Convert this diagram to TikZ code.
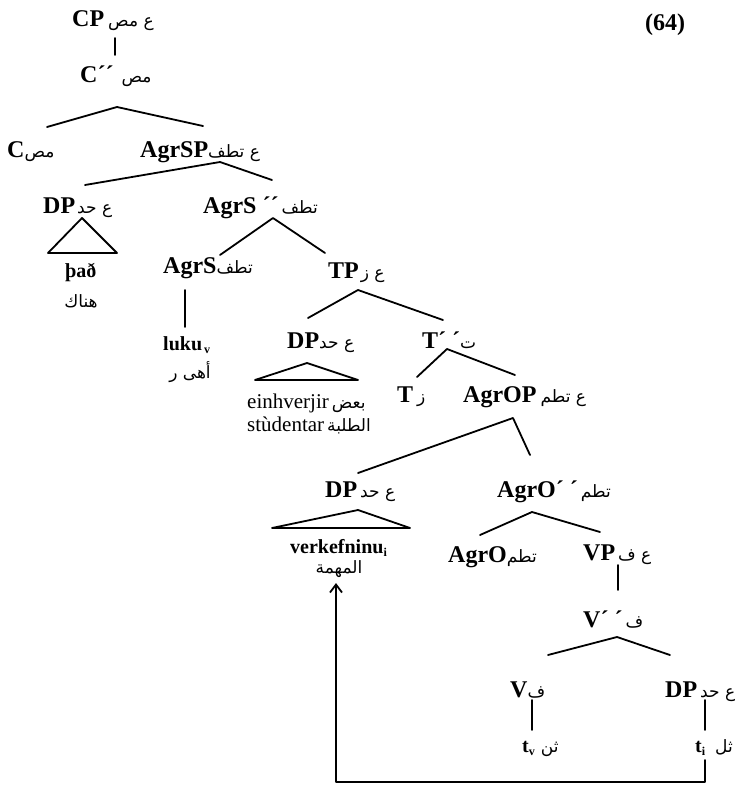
\documentclass[tikz,border=0pt]{standalone}
\usepackage{fontspec}
\setmainfont{Liberation Serif}
\newfontfamily\arabfam[Script=Arabic]{DejaVu Sans}
\TeXXeTstate=1
\usetikzlibrary{arrows.meta}
\newcommand{\arb}[1]{{\arabfam\mdseries\fontsize{17}{17}\selectfont\beginR #1\endR}}
\newcommand{\sbs}[1]{\raisebox{-3pt}{\fontsize{12}{12}\selectfont #1}}
\tikzset{
  lab/.style={anchor=base west, inner sep=0pt, font=\fontsize{24}{24}\selectfont\bfseries},
  leaf/.style={anchor=base west, inner sep=0pt, font=\fontsize{20}{20}\selectfont\bfseries},
  leafr/.style={anchor=base west, inner sep=0pt, font=\fontsize{21}{21}\selectfont},
  arn/.style={anchor=base, inner sep=0pt},
  br/.style={line width=1.8pt, line cap=round, line join=round},
}
\begin{document}
\begin{tikzpicture}[x=1pt, y=-1pt]
\useasboundingbox (0,0) rectangle (750,787);
% labels
\node[lab] (num) at (645,30) {(64)};
\node[lab] (cp) at (72,27) {CP\hspace{4pt}\arb{ع مص}};
\node[lab] (cbar) at (80,82) {C´´\hspace{8pt}\arb{مص}};
\node[lab] (c) at (7,157) {C\arb{مص}};
\node[lab] (agrsp) at (140,157) {AgrSP\arb{ع تطف}};
\node[lab] (dp1) at (43,213) {DP\hspace{2pt}\arb{ع حد}};
\node[lab] (agrsbar) at (203,213) {AgrS ´´\hspace{3pt}\arb{تطف}};
\node[lab] (agrs) at (163,273) {AgrS\arb{تطف}};
\node[lab] (tp) at (328,278) {TP\hspace{2pt}\arb{ع ز}};
\node[lab] (dp2) at (287,348) {DP\arb{ع حد}};
\node[lab] (tbar) at (422,348) {T´ ´\arb{ت}};
\node[lab] (t) at (397,402) {T\hspace{4pt}\arb{ز}};
\node[lab] (agrop) at (463,402) {AgrOP\hspace{4pt}\arb{ع تطم}};
\node[lab] (dp3) at (325,497) {DP\hspace{3pt}\arb{ع حد}};
\node[lab] (agrobar) at (497,497) {AgrO´ ´\hspace{3pt}\arb{تطم}};
\node[lab] (agro) at (448,562) {AgrO\arb{تطم}};
\node[lab] (vp) at (583,560) {VP\hspace{3pt}\arb{ع ف}};
\node[lab] (vbar) at (583,627) {V´ ´\hspace{3pt}\arb{ف}};
\node[lab] (v) at (510,697) {V\arb{ف}};
\node[lab] (dp4) at (665,697) {DP\hspace{3pt}\arb{ع حد}};
% leaves
\node[leaf] (thad) at (65,277) {það};
\node[arn] (hunak) at (81,307) {\arb{هناك}};
\node[leaf] (luku) at (163,350) {luku\hspace{2pt}\sbs{v}};
\node[arn] (anha) at (190,378) {\arb{أهى ر}};
\node[leafr] (einh) at (247,408) {einhverjir\hspace{3pt}\arb{بعض}};
\node[leafr] (stud) at (247,431) {stùdentar\hspace{3pt}\arb{الطلبة}};
\node[leaf] (verk) at (290,553) {verkefninu\sbs{i}};
\node[arn] (muh) at (339,573) {\arb{المهمة}};
\node[leaf] (tv) at (522,752) {t\sbs{v}\hspace{6pt}\arb{ثن}};
\node[leaf] (ti) at (695,752) {t\sbs{i}\hspace{10pt}\arb{ثل}};
% branches
\draw[br] ([shift={(43,11)}]cp.base west) -- ([shift={(35,-27)}]cbar.base west);
\draw[br] ([shift={(40,-30)}]c.base west) -- ([shift={(37,25)}]cbar.base west) -- ([shift={(63,-31)}]agrsp.base west);
\draw[br] ([shift={(42,-28)}]dp1.base west) -- ([shift={(80,5)}]agrsp.base west) -- ([shift={(69,-33)}]agrsbar.base west);
\draw[br] ([shift={(57,-18)}]agrs.base west) -- ([shift={(70,5)}]agrsbar.base west) -- ([shift={(-3,-25)}]tp.base west);
\draw[br] ([shift={(22,17)}]agrs.base west) -- ([shift={(22,-23)}]luku.base west);
\draw[br] ([shift={(21,-30)}]dp2.base west) -- ([shift={(30,12)}]tp.base west) -- ([shift={(21,-28)}]tbar.base west);
\draw[br] ([shift={(20,-25)}]t.base west) -- ([shift={(25,1)}]tbar.base west) -- ([shift={(52,-27)}]agrop.base west);
\draw[br] ([shift={(33,-24)}]dp3.base west) -- ([shift={(50,16)}]agrop.base west) -- ([shift={(33,-42)}]agrobar.base west);
\draw[br] ([shift={(32,-27)}]agro.base west) -- ([shift={(35,15)}]agrobar.base west) -- ([shift={(17,-28)}]vp.base west);
\draw[br] ([shift={(35,5)}]vp.base west) -- ([shift={(35,-37)}]vbar.base west);
\draw[br] ([shift={(38,-42)}]v.base west) -- ([shift={(34,10)}]vbar.base west) -- ([shift={(5,-42)}]dp4.base west);
\draw[br] ([shift={(22,3)}]v.base west) -- ([shift={(10,-22)}]tv.base west);
\draw[br] ([shift={(40,3)}]dp4.base west) -- ([shift={(10,-22)}]ti.base west);
% triangles
\draw[br] ([shift={(39,5)}]dp1.base west) -- ++(-34,35) -- ++(69,0) -- cycle;
\draw[br] ([shift={(20,15)}]dp2.base west) -- ++(-52,17) -- ++(103,0) -- cycle;
\draw[br] ([shift={(33,13)}]dp3.base west) -- ++(-86,18) -- ++(138,0) -- cycle;
% movement arrow
\draw[br, -{Straight Barb[length=8pt,width=12pt,line width=1.8pt]}] ([shift={(10,8)}]ti.base west) -- ++(0,22) -| ([shift={(46,30)}]verk.base west);
\end{tikzpicture}
\end{document}
